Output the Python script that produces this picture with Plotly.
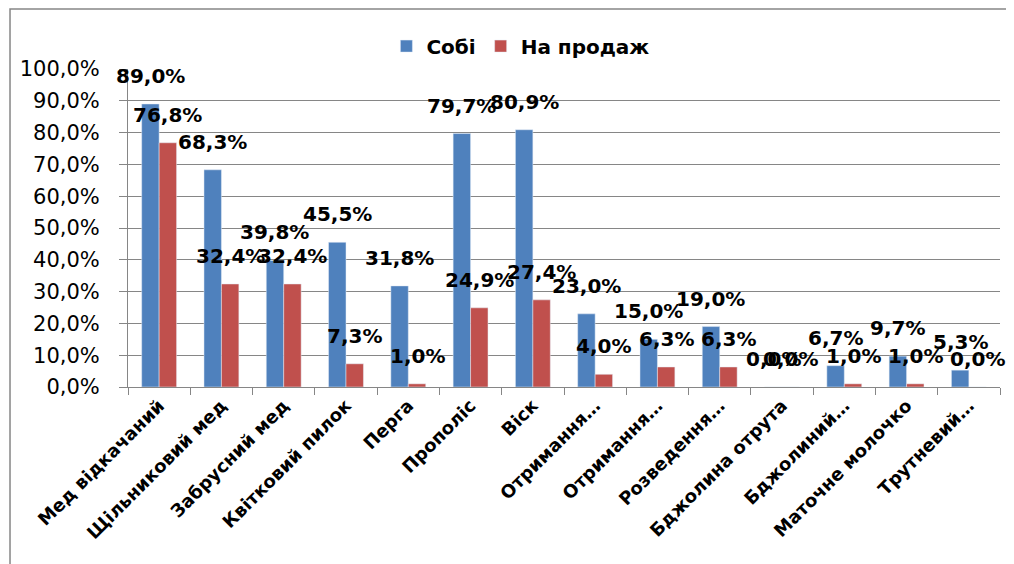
import plotly.graph_objects as go

categories = ["Мед відкачаний", "Щільниковий мед", "Забрусний мед", "Квітковий пилок",
              "Перга", "Прополіс", "Віск", "Отримання…", "Отримання…", "Розведення…",
              "Бджолина отрута", "Бджолиний…", "Маточне молочко", "Трутневий…"]
sobi = [89.0, 68.3, 39.8, 45.5, 31.8, 79.7, 80.9, 23.0, 15.0, 19.0, 0.0, 6.7, 9.7, 5.3]
na_prodazh = [76.8, 32.4, 32.4, 7.3, 1.0, 24.9, 27.4, 4.0, 6.3, 6.3, 0.0, 1.0, 1.0, 0.0]
y_ticks = [0, 10, 20, 30, 40, 50, 60, 70, 80, 90, 100]

BLUE = "#4F81BD"
RED = "#C0504D"
FONT = "DejaVu Sans"


def pct(v):
    return "{:.1f}%".format(v).replace(".", ",")


x = list(range(len(categories)))

fig = go.Figure()
fig.add_trace(go.Bar(x=x, y=sobi, name="<b>Собі</b>", marker_color=BLUE))
fig.add_trace(go.Bar(x=x, y=na_prodazh, name="<b>На продаж</b>", marker_color=RED))

# data labels above each bar
half = 0.14
for i in x:
    for dx, v in ((-half, sobi[i]), (half, na_prodazh[i])):
        fig.add_annotation(x=i + dx, y=v, text="<b>" + pct(v) + "</b>",
                           showarrow=False, yanchor="bottom", yshift=14,
                           font=dict(family=FONT, size=20, color="black"))

# outer chart border
fig.add_shape(type="rect", xref="paper", yref="paper",
              x0=-0.1353, x1=1.0138, y0=-0.56, y1=1.1887,
              line=dict(color="#868686", width=1.5), layer="below")

# page body adds an 8px offset, so margins are reduced by 8
fig.update_layout(
    width=1006, height=556,
    margin=dict(l=120, r=14, t=61, b=177, autoexpand=False),
    plot_bgcolor="white", paper_bgcolor="white",
    barmode="group", bargap=0.44, bargroupgap=0,
    showlegend=True,
    legend=dict(orientation="h", x=0.45, xanchor="center", y=1.072, yanchor="middle",
                font=dict(family=FONT, size=20, color="black"),
                traceorder="normal"),
    font=dict(family=FONT, color="black"),
)

fig.update_yaxes(range=[0, 100], tickvals=y_ticks, ticktext=[pct(v) for v in y_ticks],
                 showgrid=True, gridcolor="#868686", gridwidth=1,
                 showline=True, linecolor="#868686", linewidth=1,
                 ticks="outside", ticklen=8, tickcolor="#868686",
                 ticklabelstandoff=15,
                 tickfont=dict(family=FONT, size=21, color="black"), zeroline=False,
                 automargin=False)
fig.update_xaxes(range=[-0.5, len(categories) - 0.5], tickvals=x,
                 ticktext=["<b>" + c + "</b>" for c in categories],
                 tickangle=-45, ticks="", showgrid=False,
                 showline=True, linecolor="#868686", linewidth=1,
                 tickfont=dict(family=FONT, size=18, color="black"),
                 automargin=False,
                 minor=dict(tickvals=[i - 0.5 for i in range(len(categories) + 1)],
                            ticks="outside", ticklen=7, tickcolor="#868686", showgrid=False))

fig.write_html("out.html")
